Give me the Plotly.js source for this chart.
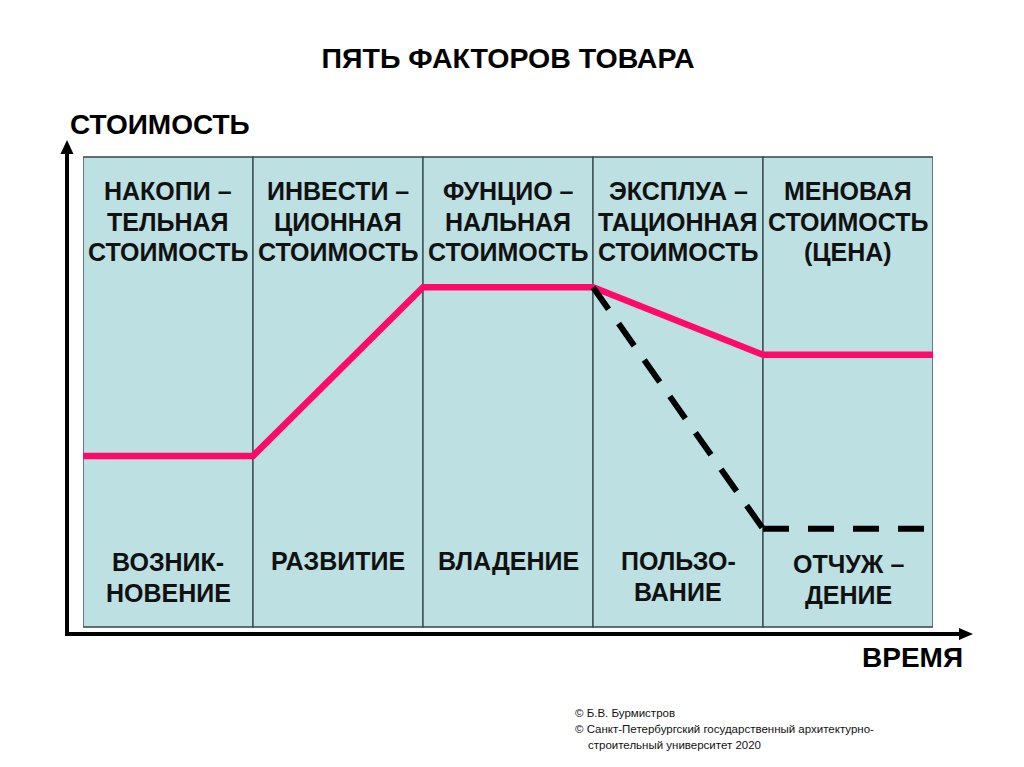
<!DOCTYPE html>
<html><head><meta charset="utf-8">
<script src="https://cdn.plot.ly/plotly-3.0.1.min.js"></script>
<style>html,body{margin:0;padding:0;background:#fff;}#chart{width:1024px;height:767px;}</style>
</head><body><div id="chart"></div>
<script>
// ---- data ----
const stages = [0, 1, 2, 3, 4, 5];
const valuePink = [3.64, 3.64, 7.23, 7.23, 5.79, 5.79];
const dropX = [3, 4];
const dropY = [7.23, 2.09];
const lowX = [4, 4.95];
const lowY = [2.09, 2.09];
const topLabels = [["НАКОПИ –", "ТЕЛЬНАЯ", "СТОИМОСТЬ"], ["ИНВЕСТИ –", "ЦИОННАЯ", "СТОИМОСТЬ"], ["ФУНЦИО –", "НАЛЬНАЯ", "СТОИМОСТЬ"], ["ЭКСПЛУА –", "ТАЦИОННАЯ", "СТОИМОСТЬ"], ["МЕНОВАЯ", "СТОИМОСТЬ", "(ЦЕНА)"]];
const bottomLabels = [["ВОЗНИК-", "НОВЕНИЕ"], ["РАЗВИТИЕ"], ["ВЛАДЕНИЕ"], ["ПОЛЬЗО-", "ВАНИЕ"], ["ОТЧУЖ –", "ДЕНИЕ"]];
const titleText = "ПЯТЬ ФАКТОРОВ ТОВАРА";
const yLabel = "СТОИМОСТЬ";
const xLabel = "ВРЕМЯ";
const footLines = ["© Б.В. Бурмистров", "© Санкт-Петербургский государственный архитектурно-", "строительный университет 2020"];

// ---- layout helpers ----
const W = 1024, H = 767;
const L = 83, R = 933, T = 157, B = 627;
const px = x => (x - L) / (R - L);
const py = y => (B - y) / (B - T);
const FONT = "Liberation Sans, Arial, sans-serif";

const shapes = [];
for (let i = 0; i < 5; i++) {
  shapes.push({type: 'rect', xref: 'x', yref: 'paper', x0: stages[i], x1: stages[i + 1], y0: 0, y1: 1,
    fillcolor: '#bde0e3', line: {color: '#34454a', width: 1.3}, layer: 'below'});
}
// axes with arrows
const axX = 67, axY = 634;
shapes.push({type: 'line', xref: 'paper', yref: 'paper', x0: px(axX), x1: px(axX), y0: py(axY + 2), y1: py(152), line: {color: '#000', width: 4}});
shapes.push({type: 'line', xref: 'paper', yref: 'paper', x0: px(axX - 2), x1: px(962), y0: py(axY), y1: py(axY), line: {color: '#000', width: 4}});
shapes.push({type: 'path', xref: 'paper', yref: 'paper',
  path: `M ${px(axX)} ${py(140)} L ${px(axX - 6.5)} ${py(154)} L ${px(axX + 6.5)} ${py(154)} Z`,
  fillcolor: '#000', line: {color: '#000', width: 0}});
shapes.push({type: 'path', xref: 'paper', yref: 'paper',
  path: `M ${px(973)} ${py(axY)} L ${px(959)} ${py(axY - 6)} L ${px(959)} ${py(axY + 6)} Z`,
  fillcolor: '#000', line: {color: '#000', width: 0}});

const annotations = [];
const labelFont = {family: FONT, size: 25, color: '#111', weight: 'bold'};
const topStart = 191, lineGap = 30.5;
const botStart = [562, 561, 561, 561, 564];
for (let i = 0; i < 5; i++) {
  topLabels[i].forEach((t, k) => annotations.push({x: stages[i] + 0.5, xref: 'x', yref: 'paper', y: py(topStart + k * lineGap),
    yanchor: 'middle', xanchor: 'center', text: t, showarrow: false, font: labelFont}));
  bottomLabels[i].forEach((t, k) => annotations.push({x: stages[i] + 0.5, xref: 'x', yref: 'paper', y: py(botStart[i] + k * 31),
    yanchor: 'middle', xanchor: 'center', text: t, showarrow: false, font: labelFont}));
}
annotations.push({xref: 'paper', yref: 'paper', x: px(160), y: py(124), xanchor: 'center', yanchor: 'middle',
  text: yLabel, showarrow: false, font: {family: FONT, size: 28, color: '#000', weight: 'bold'}});
annotations.push({xref: 'paper', yref: 'paper', x: px(912), y: py(657), xanchor: 'center', yanchor: 'middle',
  text: xLabel, showarrow: false, font: {family: FONT, size: 28, color: '#000', weight: 'bold'}});
const footX = [573, 573, 586], footY = [713, 729, 745];
for (let i = 0; i < footLines.length; i++) {
  annotations.push({xref: 'paper', yref: 'paper', x: px(footX[i]), y: py(footY[i]), xanchor: 'left', yanchor: 'middle',
    text: footLines[i], showarrow: false, font: {family: FONT, size: 11.5, color: '#111'}});
}

const traces = [
  {x: stages, y: valuePink, mode: 'lines', line: {color: '#ff0a6a', width: 6.5}, hoverinfo: 'skip'},
  {x: dropX, y: dropY, mode: 'lines', line: {color: '#000', width: 6, dash: '27px,17.5px'}, hoverinfo: 'skip'},
  {x: lowX, y: lowY, mode: 'lines', line: {color: '#000', width: 6, dash: '26px,19px'}, hoverinfo: 'skip'}
];

const layout = {
  width: W, height: H,
  margin: {l: L, r: W - R, t: T, b: H - B, pad: 0},
  paper_bgcolor: '#fff', plot_bgcolor: 'rgba(0,0,0,0)',
  showlegend: false,
  title: {text: titleText, x: 0.5, xref: 'paper', xanchor: 'center', y: 1 - 58 / H, yref: 'container', yanchor: 'middle',
    font: {family: FONT, size: 28.5, color: '#000', weight: 'bold'}},
  xaxis: {range: [0, 5], visible: false, fixedrange: true},
  yaxis: {range: [0, 10], visible: false, fixedrange: true},
  shapes: shapes,
  annotations: annotations
};
Plotly.newPlot('chart', traces, layout, {displayModeBar: false, staticPlot: true});
</script></body></html>
